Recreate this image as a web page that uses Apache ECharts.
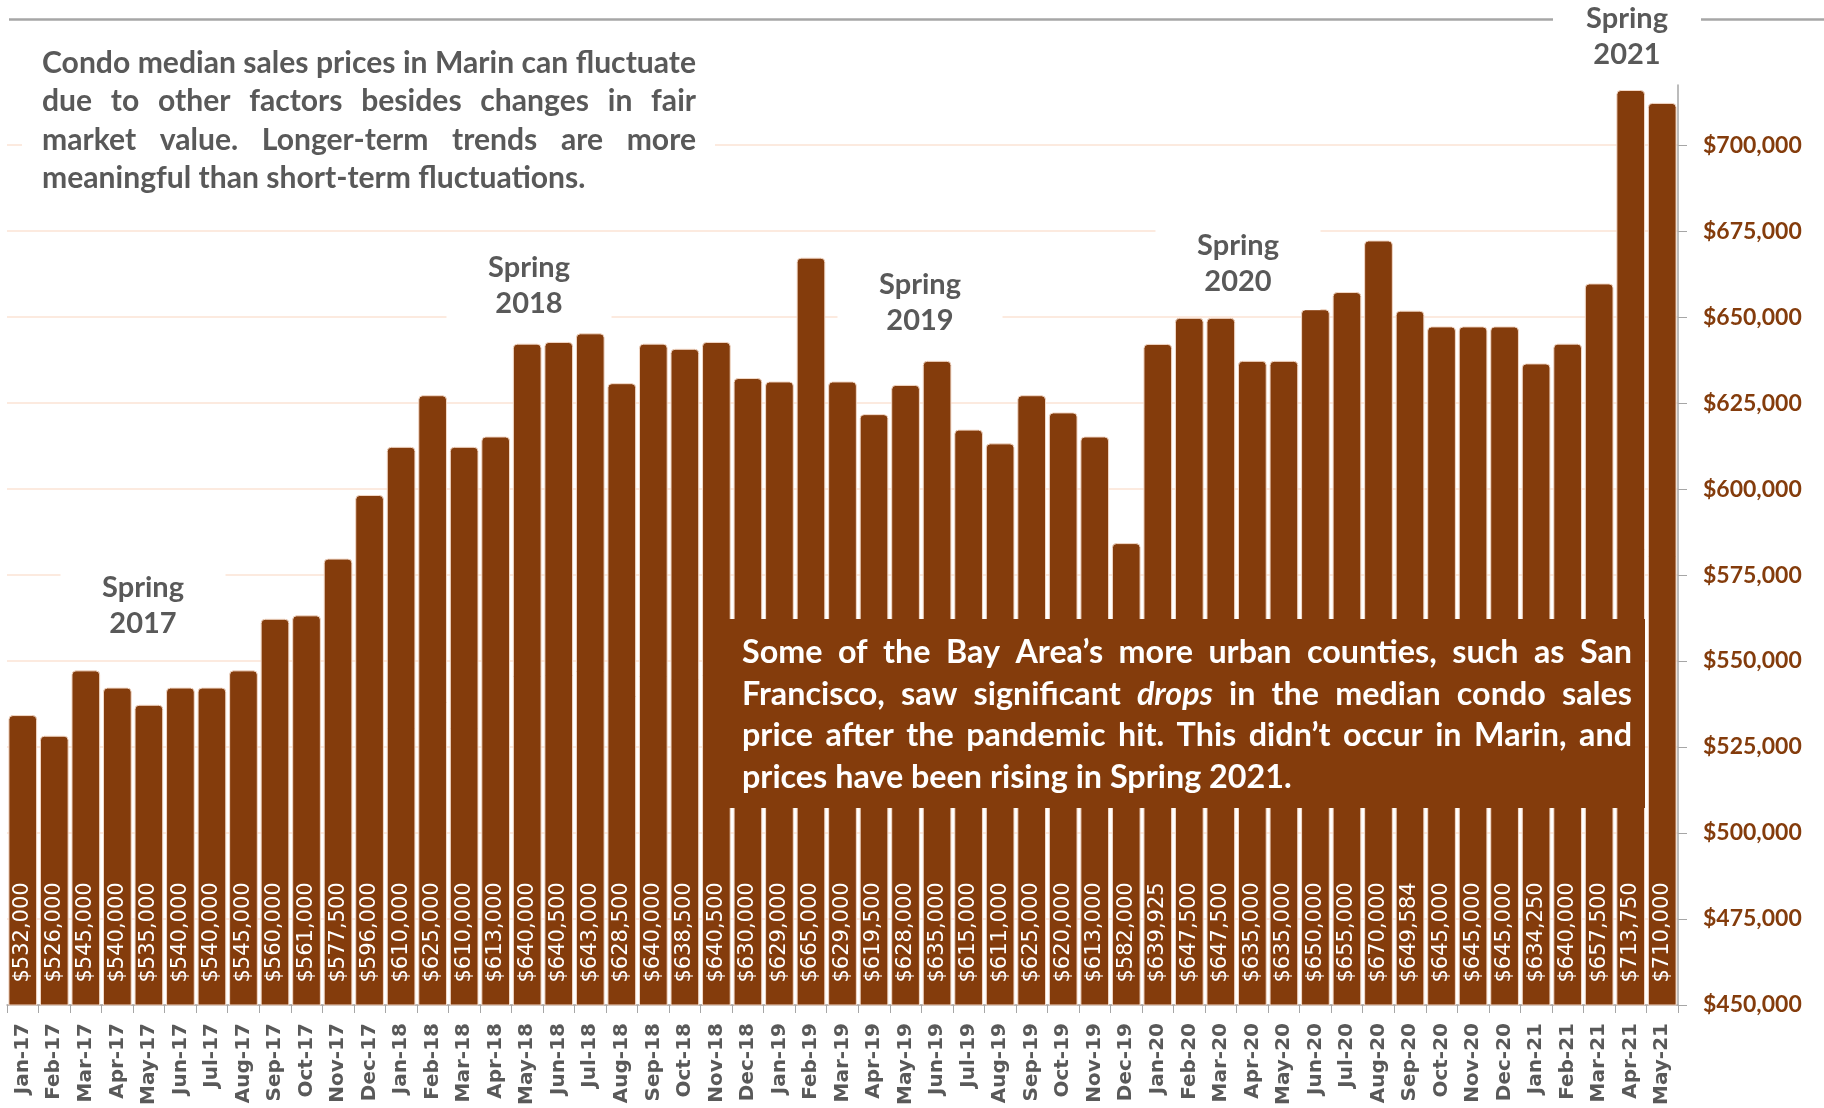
<!DOCTYPE html>
<html>
<head>
<meta charset="utf-8">
<script src="https://cdn.jsdelivr.net/npm/echarts@6/dist/echarts.min.js"></script>
<style>
html, body { margin: 0; padding: 0; background: #fff; }
#chart { width: 1824px; height: 1108px; }
</style>
</head>
<body>
<div id="chart"></div>
<script>
// 月份（X轴）
var months = [
	'Jan-17', 'Feb-17', 'Mar-17', 'Apr-17', 'May-17', 'Jun-17', 'Jul-17', 'Aug-17', 'Sep-17', 'Oct-17', 'Nov-17', 'Dec-17',
	'Jan-18', 'Feb-18', 'Mar-18', 'Apr-18', 'May-18', 'Jun-18', 'Jul-18', 'Aug-18', 'Sep-18', 'Oct-18', 'Nov-18', 'Dec-18',
	'Jan-19', 'Feb-19', 'Mar-19', 'Apr-19', 'May-19', 'Jun-19', 'Jul-19', 'Aug-19', 'Sep-19', 'Oct-19', 'Nov-19', 'Dec-19',
	'Jan-20', 'Feb-20', 'Mar-20', 'Apr-20', 'May-20', 'Jun-20', 'Jul-20', 'Aug-20', 'Sep-20', 'Oct-20', 'Nov-20', 'Dec-20',
	'Jan-21', 'Feb-21', 'Mar-21', 'Apr-21', 'May-21'
];
// 中位数售价
var prices = [
	532000, 526000, 545000, 540000, 535000, 540000, 540000, 545000, 560000, 561000, 577500, 596000,
	610000, 625000, 610000, 613000, 640000, 640500, 643000, 628500, 640000, 638500, 640500, 630000,
	629000, 665000, 629000, 619500, 628000, 635000, 615000, 611000, 625000, 620000, 613000, 582000,
	639925, 647500, 647500, 635000, 635000, 650000, 655000, 670000, 649584, 645000, 645000, 645000,
	634250, 640000, 657500, 713750, 710000
];
// Y轴刻度
var yMin = 450000;
var yMax = 717500;
var yStep = 25000;
// 原图柱子比网格线高出约 8px，用一个隐藏的轴做同样的偏移
var barShift = 2300;

var springLabels = ['Spring\n2017', 'Spring\n2018', 'Spring\n2019', 'Spring\n2020', 'Spring\n2021'];

var noteTop = [
	'Condo median sales prices in Marin can fluctuate',
	'due to other factors besides changes in fair',
	'market value. Longer-term trends are more',
	'meaningful than short-term fluctuations.'
];
// *xxx 表示斜体
var noteBottom = [
	'Some of the Bay Area\u2019s more urban counties, such as San',
	'Francisco, saw significant *drops in the median condo sales',
	'price after the pandemic hit. This didn\u2019t occur in Marin, and',
	'prices have been rising in Spring 2021.'
];

var brown = '#843C0C';
var grey = '#595959';
var textFont = 'Lato, "Open Sans", sans-serif';

function money(v) {
	return '$' + Number(v).toLocaleString('en-US');
}

// 测量文字宽度，用来做两端对齐
var measureCtx = document.createElement('canvas').getContext('2d');
function textWidth(str, size, italic) {
	measureCtx.font = (italic ? 'italic ' : '') + 'bold ' + size + 'px ' + textFont;
	return measureCtx.measureText(str).width;
}

function justifiedBlock(lines, left, width, firstY, lineGap, size, color) {
	var els = [];
	for (var li = 0; li < lines.length; li++) {
		var words = lines[li].split(' ');
		var widths = [];
		var total = 0;
		for (var wi = 0; wi < words.length; wi++) {
			var it = words[wi].charAt(0) === '*';
			widths[wi] = textWidth(words[wi].replace('*', ''), size, it);
			total += widths[wi];
		}
		var isLast = li === lines.length - 1;
		var gap = isLast ? textWidth(' ', size, false) : (width - total) / (words.length - 1);
		var x = left;
		for (var wj = 0; wj < words.length; wj++) {
			var italic = words[wj].charAt(0) === '*';
			els.push({
				type: 'text',
				x: x,
				y: firstY + li * lineGap,
				z: 110,
				style: {
					text: words[wj].replace('*', ''),
					fill: color,
					fontSize: size,
					fontWeight: 'bold',
					fontStyle: italic ? 'italic' : 'normal',
					fontFamily: textFont,
					align: 'left',
					verticalAlign: 'middle',
					textAlign: 'left',
					textVerticalAlign: 'middle'
				}
			});
			x += widths[wj] + gap;
		}
	}
	return els;
}

// 按最后一行（不对齐的那行）宽度定字号
function fitSize(str, target) {
	return Math.round(100 * target / textWidth(str, 100, false) * 10) / 10;
}

var topSize = fitSize(noteTop[3], 543);
var bottomSize = fitSize(noteBottom[3], 549);

// Spring 标签位置
var springPos = [[143, 606], [529, 286], [920, 303], [1238, 264], [1627, 37]];

var graphics = [];
// 顶部灰线
graphics.push({
	type: 'line', z: 90,
	shape: { x1: 9, y1: 19.5, x2: 1824, y2: 19.5 },
	style: { stroke: '#A6A6A6', lineWidth: 2.5 }
});
// 左上说明文字的白底
graphics.push({
	type: 'rect', z: 95,
	shape: { x: 22, y: 36, width: 693, height: 178 },
	style: { fill: '#fff' }
});
// 下方褐色说明框
graphics.push({
	type: 'rect', z: 100,
	shape: { x: 704, y: 619, width: 941, height: 189 },
	style: { fill: brown }
});
for (var s = 0; s < springLabels.length; s++) {
	var w = s === 4 ? 148 : 165;
	graphics.push({
		type: 'rect', z: 95,
		shape: { x: springPos[s][0] - w / 2, y: springPos[s][1] - 46, width: w, height: 92 },
		style: { fill: '#fff' }
	});
	graphics.push({
		type: 'text', z: 110,
		x: springPos[s][0], y: springPos[s][1],
		style: {
			text: springLabels[s],
			fill: grey,
			fontSize: 29,
			fontWeight: 'bold',
			fontFamily: textFont,
			lineHeight: 36,
			align: 'center',
			verticalAlign: 'middle',
			textAlign: 'center',
			textVerticalAlign: 'middle'
		}
	});
}
graphics = graphics.concat(justifiedBlock(noteTop, 42, 654, 63, 38.4, topSize, grey));
graphics = graphics.concat(justifiedBlock(noteBottom, 742, 890, 653, 41.5, bottomSize, '#ffffff'));

var myChart = echarts.init(document.getElementById('chart'));

var option = {
	animation: false,
	backgroundColor: '#fff',
	grid: {
		left: 7,
		right: 146,
		top: 85,
		bottom: 103,
		containLabel: false
	},
	xAxis: {
		type: 'category',
		data: months,
		axisLine: { lineStyle: { color: '#A6A6A6', width: 1.5 } },
		axisTick: { show: true, length: 8, lineStyle: { color: '#A6A6A6' } },
		axisLabel: {
			interval: 0,
			rotate: 90,
			margin: 18,
			color: grey,
			fontSize: 20,
			fontWeight: 'bold',
			fontFamily: 'DejaVu Sans'
		}
	},
	yAxis: [{
		type: 'value',
		position: 'right',
		min: yMin,
		max: yMax,
		interval: yStep,
		axisLine: { show: true, lineStyle: { color: '#A6A6A6', width: 1.5 } },
		axisTick: { show: true, length: 9, lineStyle: { color: '#A6A6A6' } },
		splitLine: { show: true, showMaxLine: false, lineStyle: { color: '#FBE3D4', width: 1.5 } },
		axisLabel: {
			margin: 25,
			showMaxLabel: false,
			color: brown,
			fontSize: 23,
			fontWeight: 'bold',
			fontFamily: textFont,
			formatter: function (v) {
				return v % yStep === 0 ? money(v) : '';
			}
		}
	}, {
		// 柱子用的隐藏轴
		type: 'value',
		position: 'right',
		show: false,
		min: yMin - barShift,
		max: yMax - barShift,
		splitLine: { show: false }
	}],
	series: [{
		type: 'bar',
		yAxisIndex: 1,
		data: prices,
		barCategoryGap: '9%',
		itemStyle: {
			color: brown,
			borderColor: '#F3D9C8',
			borderWidth: 1,
			borderRadius: [4, 4, 0, 0]
		},
		label: {
			show: true,
			position: 'insideBottom',
			rotate: 90,
			align: 'left',
			verticalAlign: 'middle',
			distance: 23,
			color: '#fff',
			fontSize: 21,
			fontFamily: 'DejaVu Sans',
			formatter: function (p) {
				return money(p.value);
			}
		}
	}],
	graphic: { elements: graphics }
};

myChart.setOption(option);
</script>
</body>
</html>
